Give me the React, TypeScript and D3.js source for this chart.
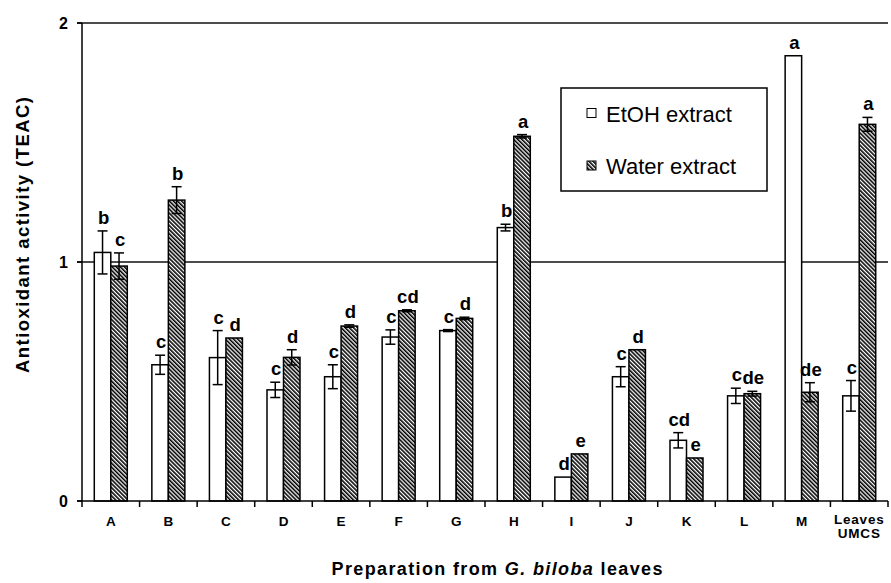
import React from "react";
import * as d3 from "d3";

const categories = ["A", "B", "C", "D", "E", "F", "G", "H", "I", "J", "K", "L", "M", "Leaves UMCS"];
const seriesNames = ["EtOH extract", "Water extract"];
const etohValues = [1.04, 0.57, 0.6, 0.465, 0.52, 0.686, 0.713, 1.144, 0.1, 0.52, 0.254, 0.44, 1.863, 0.44];
const etohErrors = [0.09, 0.04, 0.113, 0.032, 0.05, 0.03, 0.004, 0.014, 0, 0.042, 0.032, 0.032, 0, 0.064];
const waterValues = [0.983, 1.259, 0.682, 0.601, 0.732, 0.796, 0.764, 1.526, 0.197, 0.633, 0.18, 0.449, 0.455, 1.576];
const waterErrors = [0.055, 0.056, 0, 0.032, 0.005, 0.004, 0.005, 0.007, 0, 0, 0, 0.01, 0.04, 0.029];
const etohLetters = ["b", "c", "c", "c", "c", "c", "c", "b", "d", "c", "cd", "c", "a", "c"];
const waterLetters = ["c", "b", "d", "d", "d", "cd", "d", "a", "e", "d", "e", "de", "de", "a"];
const yTicks = [0, 1, 2];

const W = 891;
const H = 583;
const left = 82;
const right = 888;
const top = 23;
const bottom = 501;
const FONT = "'Liberation Sans', Arial, sans-serif";

export default function App() {
  const x = d3.scaleBand<string>().domain(categories).range([left, right]).padding(0);
  const bw = x.bandwidth();
  const sub = d3
    .scaleBand<string>()
    .domain(seriesNames)
    .range([bw / 2 - 16.5, bw / 2 + 16.5])
    .padding(0);
  const y = d3.scaleLinear().domain([0, 2]).range([bottom, top]);

  const series = [
    { name: seriesNames[0], values: etohValues, errors: etohErrors, letters: etohLetters, fill: "#fff" },
    { name: seriesNames[1], values: waterValues, errors: waterErrors, letters: waterLetters, fill: "url(#hatch)" },
  ];

  const boundaries = categories.map((c) => x(c)!).concat([right]);

  return (
    <svg width={W} height={H} style={{ position: "absolute", left: 0, top: 0, background: "#fff" }} fontFamily={FONT}>
      <defs>
        <pattern id="hatch" patternUnits="userSpaceOnUse" width={2.9} height={10} patternTransform="rotate(-45)">
          <rect width={2.9} height={10} fill="#fff" />
          <line x1={0.8} y1={0} x2={0.8} y2={10} stroke="#000" strokeWidth={1.6} />
        </pattern>
      </defs>

      {/* gridlines */}
      {yTicks.filter((t) => t > 0).map((t) => (
        <line key={"g" + t} x1={left - 5} x2={right} y1={y(t)} y2={y(t)} stroke="#111" strokeWidth={1.4} />
      ))}

      {/* bars */}
      {series.map((s) =>
        categories.map((c, i) => {
          const bx = x(c)! + sub(s.name)!;
          const v = s.values[i];
          return (
            <rect
              key={s.name + c}
              x={bx}
              y={y(v)}
              width={sub.bandwidth()}
              height={y(0) - y(v)}
              fill={s.fill}
              stroke="#000"
              strokeWidth={1.5}
            />
          );
        })
      )}

      {/* error bars */}
      {series.map((s) =>
        categories.map((c, i) => {
          const e = s.errors[i];
          if (!e) return null;
          const cx = x(c)! + sub(s.name)! + sub.bandwidth() / 2;
          const v = s.values[i];
          return (
            <g key={"e" + s.name + c} stroke="#000" strokeWidth={1.5}>
              <line x1={cx} x2={cx} y1={y(v + e)} y2={y(v - e)} />
              <line x1={cx - 5} x2={cx + 5} y1={y(v + e)} y2={y(v + e)} />
              <line x1={cx - 5} x2={cx + 5} y1={y(v - e)} y2={y(v - e)} />
            </g>
          );
        })
      )}

      {/* letters */}
      {series.map((s) =>
        categories.map((c, i) => {
          const cx = x(c)! + sub(s.name)! + sub.bandwidth() / 2 + 1;
          const v = s.values[i] + s.errors[i];
          return (
            <text
              key={"l" + s.name + c}
              x={cx}
              y={y(v) - 7}
              textAnchor="middle"
              fontSize={18.5}
              fontWeight="bold"
              fill="#000"
            >
              {s.letters[i]}
            </text>
          );
        })
      )}

      {/* axes */}
      <line x1={left} x2={left} y1={top} y2={bottom} stroke="#000" strokeWidth={1.5} />
      <line x1={left - 5} x2={right} y1={bottom} y2={bottom} stroke="#000" strokeWidth={1.5} />
      {yTicks.map((t) => (
        <g key={"yt" + t}>
          <line x1={left - 5} x2={left} y1={y(t)} y2={y(t)} stroke="#000" strokeWidth={1.5} />
          <text x={left - 14} y={y(t) + 6} textAnchor="end" fontSize={16} fontWeight="bold">
            {t}
          </text>
        </g>
      ))}
      {boundaries.map((b, i) => (
        <line key={"xt" + i} x1={b} x2={b} y1={bottom} y2={bottom + 6} stroke="#000" strokeWidth={1.5} />
      ))}
      {categories.map((c) => {
        const cx = x(c)! + bw / 2;
        const parts = c.split(" ");
        return (
          <text key={"xl" + c} x={cx} y={parts.length > 1 ? 524 : 525.5} textAnchor="middle" fontSize={13.5} fontWeight="bold">
            {parts.map((p, j) => (
              <tspan key={j} x={cx} dy={j === 0 ? 0 : 13.5} letterSpacing={parts.length > 1 ? 0.8 : 0}>
                {p}
              </tspan>
            ))}
          </text>
        );
      })}

      {/* axis titles */}
      <text x={497} y={575} textAnchor="middle" fontSize={18} fontWeight="bold" textLength={331} lengthAdjust="spacing">
        Preparation from <tspan fontStyle="italic">G. biloba</tspan> leaves
      </text>
      <text
        transform={`translate(29,235) rotate(-90)`}
        textAnchor="middle"
        fontSize={18.5}
        fontWeight="bold"
        textLength={276}
        lengthAdjust="spacing"
      >
        Antioxidant activity (TEAC)
      </text>

      {/* legend */}
      <rect x={561} y={88} width={206} height={103} fill="#fff" stroke="#000" strokeWidth={1.5} />
      {series.map((s, i) => (
        <g key={"lg" + s.name}>
          <rect x={587} y={i === 0 ? 108.5 : 161} width={9} height={9} fill={s.fill} stroke="#000" strokeWidth={1} />
          <text x={606} y={i === 0 ? 121.5 : 173.5} fontSize={22} fill="#000">
            {s.name}
          </text>
        </g>
      ))}
    </svg>
  );
}
